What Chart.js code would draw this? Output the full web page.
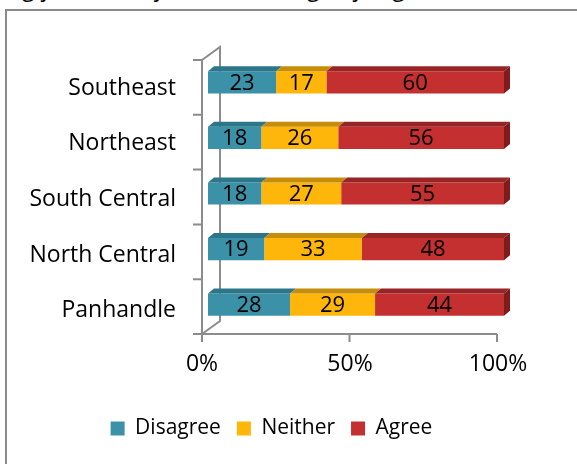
<!DOCTYPE html>
<html lang="en">
<head>
<meta charset="UTF-8">
<title>Climate change by region</title>
<script src="https://cdn.jsdelivr.net/npm/chart.js@4.4.1/dist/chart.umd.min.js"></script>
<style>
    body { margin: 0; width: 577px; height: 464px; overflow: hidden; position: relative; background: #fff; font-family: 'Open Sans', sans-serif; }
    .caption { position: absolute; left: 8px; top: -24px; font-size: 23px; line-height: 23px; white-space: nowrap; color: #000; }
    .frame { position: absolute; left: 5px; top: 9px; width: 640px; height: 520px; border: 2px solid #8a8a8a; }
    #chart { position: absolute; left: 0; top: 0; }
</style>
</head>
<body>
<div class="caption">ngly caused by climate change by region</div>
<div class="frame"></div>
<canvas id="chart" width="577" height="464"></canvas>
<script>
    // data
    const regions = ['Southeast', 'Northeast', 'South Central', 'North Central', 'Panhandle'];
    const disagree = [23, 18, 18, 19, 28];
    const neither = [17, 26, 27, 33, 29];
    const agree = [60, 56, 55, 48, 44];
    const seriesNames = ['Disagree', 'Neither', 'Agree'];
    const xTickLabels = ['0%', '50%', '100%'];

    const frontColors = ['#3A91A8', '#FFB60B', '#C42F30'];
    const topColors = ['#2C7689', '#C58D0A', '#982426'];
    const sideColor = '#7E1C1D';

    // 100% stacked: each row scaled to its own total
    const totals = regions.map((r, i) => disagree[i] + neither[i] + agree[i]);
    const share = arr => arr.map((v, i) => v / totals[i] * 100);

    const depth = { dx: 6, dy: -5 };      // bar depth
    const wall = { dx: 18, dy: -13 };     // floor/wall depth

    const threeD = {
        id: 'threeD',
        afterLayout(chart) {
            // legend sits a bit right of the canvas centre
            chart.legend.left = 39;
            chart.legend.right = 504;
        },
        beforeDatasetsDraw(chart) {
            const { ctx, chartArea: a, scales: { x } } = chart;
            const left = x.getPixelForValue(0) - 6;
            const right = x.getPixelForValue(100) - 7;
            const top = a.top + 5.5;
            const bottom = a.bottom + 1.5;
            ctx.save();
            ctx.strokeStyle = '#8c8c8c';
            ctx.lineWidth = 2;
            ctx.beginPath();
            ctx.moveTo(left, top);
            ctx.lineTo(left, bottom);
            ctx.lineTo(right, bottom);
            ctx.moveTo(left, top);
            ctx.lineTo(left + wall.dx, top + wall.dy);
            ctx.lineTo(left + wall.dx, bottom + wall.dy);
            ctx.lineTo(left, bottom);
            for (let i = 0; i <= regions.length; i++) {
                const yy = top + (bottom - top) * i / regions.length;
                ctx.moveTo(left - 9, yy);
                ctx.lineTo(left, yy);
            }
            x.ticks.forEach(t => {
                const xx = left + (right - left) * t.value / 100;
                ctx.moveTo(xx, bottom);
                ctx.lineTo(xx, bottom + 8);
            });
            ctx.stroke();
            ctx.restore();
        },
        afterDatasetsDraw(chart) {
            const ctx = chart.ctx;
            const last = chart.data.datasets.length - 1;
            ctx.save();
            chart.data.datasets.forEach((ds, i) => {
                chart.getDatasetMeta(i).data.forEach(bar => {
                    const { x, y, base, height } = bar.getProps(['x', 'y', 'base', 'height'], true);
                    const t = y - height / 2, b = y + height / 2;
                    ctx.fillStyle = topColors[i];
                    ctx.beginPath();
                    ctx.moveTo(base, t);
                    ctx.lineTo(x, t);
                    ctx.lineTo(x + depth.dx, t + depth.dy);
                    ctx.lineTo(base + depth.dx, t + depth.dy);
                    ctx.closePath();
                    ctx.fill();
                    if (i === last) {
                        ctx.fillStyle = sideColor;
                        ctx.beginPath();
                        ctx.moveTo(x, t);
                        ctx.lineTo(x + depth.dx, t + depth.dy);
                        ctx.lineTo(x + depth.dx, b + depth.dy);
                        ctx.lineTo(x, b);
                        ctx.closePath();
                        ctx.fill();
                    }
                });
            });
            // value labels
            ctx.fillStyle = '#000';
            ctx.font = "22px 'Open Sans'";
            ctx.textAlign = 'center';
            ctx.textBaseline = 'middle';
            chart.data.datasets.forEach((ds, i) => {
                chart.getDatasetMeta(i).data.forEach((bar, j) => {
                    const { x, y, base } = bar.getProps(['x', 'y', 'base'], true);
                    ctx.fillText(ds.counts[j], (x + base) / 2, y + 1);
                });
            });
            ctx.restore();
        }
    };

    Chart.defaults.font.family = "'Open Sans', sans-serif";
    Chart.defaults.font.size = 23;
    Chart.defaults.color = '#000';

    new Chart(document.getElementById('chart'), {
        type: 'bar',
        data: {
            labels: regions,
            datasets: [disagree, neither, agree].map((vals, i) => ({
                label: seriesNames[i],
                data: share(vals),
                counts: vals,
                backgroundColor: frontColors[i],
                borderWidth: 0,
                barPercentage: 0.4,
                categoryPercentage: 1.0
            }))
        },
        options: {
            indexAxis: 'y',
            responsive: false,
            animation: false,
            layout: { padding: { top: 54.5, right: 73, left: 0, bottom: 15 } },
            scales: {
                x: {
                    stacked: true,
                    min: 0,
                    max: 100,
                    grid: { display: false, drawTicks: false },
                    border: { display: false },
                    ticks: {
                        stepSize: 50,
                        padding: 18,
                        labelOffset: -6,
                        callback: (v, i) => xTickLabels[i]
                    },
                    afterFit: s => { s.height = 69.5; }
                },
                y: {
                    stacked: true,
                    grid: { display: false, drawTicks: false },
                    border: { display: false },
                    ticks: { padding: 32, labelOffset: 6 },
                    afterFit: s => { s.width = 208; }
                }
            },
            plugins: {
                legend: {
                    position: 'bottom',
                    labels: { boxWidth: 14, boxHeight: 14, padding: 16, font: { size: 21 } }
                },
                tooltip: { enabled: false }
            }
        },
        plugins: [threeD]
    });
</script>
</body>
</html>
